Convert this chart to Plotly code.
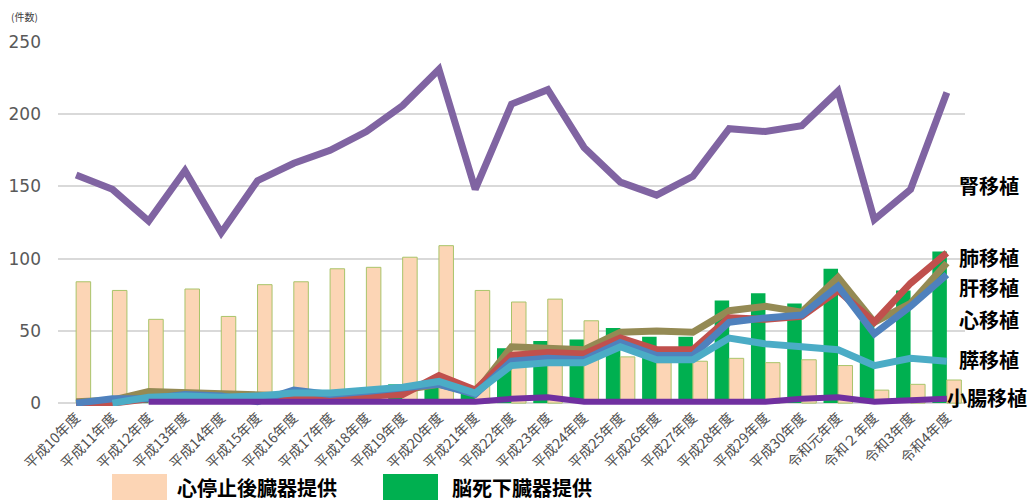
import plotly.graph_objects as go

categories = ["平成10年度", "平成11年度", "平成12年度", "平成13年度", "平成14年度",
              "平成15年度", "平成16年度", "平成17年度", "平成18年度", "平成19年度",
              "平成20年度", "平成21年度", "平成22年度", "平成23年度", "平成24年度",
              "平成25年度", "平成26年度", "平成27年度", "平成28年度", "平成29年度",
              "平成30年度", "令和元年度", "令和２年度", "令和3年度", "令和4年度"]

cardiac_arrest = [84, 78, 58, 79, 60, 82, 84, 93, 94, 101, 109, 78, 70, 72, 57,
                  32, 28, 29, 31, 28, 30, 26, 9, 13, 16]
brain_death = [0, 4, 5, 8, 6, 3, 5, 9, 10, 13, 13, 7, 38, 43, 44,
               52, 46, 46, 71, 76, 69, 93, 57, 78, 105]

kidney = [158, 148, 126, 161, 118, 154, 166, 175, 188, 206, 231, 148, 207, 217, 177,
          153, 144, 157, 190, 188, 192, 216, 127, 148, 215]
liver = [1, 2, 8, 7, 6, 5, 5, 6, 7, 9, 13, 7, 39, 38, 37,
         49, 50, 49, 64, 67, 63, 87, 56, 69, 97]
lung = [0, 0, 3, 4, 2, 2, 4, 4, 5, 6, 19, 9, 33, 35, 34,
        45, 37, 37, 59, 58, 60, 78, 56, 83, 104]
heart = [0, 3, 3, 6, 5, 1, 9, 6, 8, 10, 13, 6, 29, 31, 30,
         42, 33, 33, 56, 59, 61, 81, 48, 67, 89]
pancreas = [None, 0, 4, 5, 4, 5, 7, 7, 9, 11, 15, 7, 26, 28, 28,
            39, 30, 30, 45, 41, 39, 37, 26, 31, 29]
small_intestine = [None, None, 1, 1, 1, 1, 1, 1, 1, 1, 1, 1, 3, 4, 1,
                   1, 1, 1, 1, 1, 3, 4, 1, 2, 3]

y_ticks = [0, 50, 100, 150, 200, 250]

# The page body adds an 8px margin, so the figure is drawn 8px smaller
W, H = 1028, 494
L, T, PW, PH = 50, 34, 907, 364
SX0, SY0 = L + 8, T + 8 + PH  # screen position of plot left / bottom


def px(xs):
    return (xs - SX0) / PW


def py(ys):
    return (SY0 - ys) / PH


fig = go.Figure()

fig.add_trace(go.Bar(x=categories, y=brain_death, name="脳死下臓器提供",
                     marker=dict(color="#00B050", line=dict(width=0))))
fig.add_trace(go.Bar(x=categories, y=cardiac_arrest, name="心停止後臓器提供",
                     marker=dict(color="#FCD5B5", line=dict(color="#A9C46A", width=1))))

line_specs = [
    (liver, "肝移植", "#948A54", 7),
    (lung, "肺移植", "#C0504D", 7),
    (heart, "心移植", "#4F81BD", 7),
    (pancreas, "膵移植", "#4BACC6", 7),
    (small_intestine, "小腸移植", "#7030A0", 6),
    (kidney, "腎移植", "#8064A2", 7),
]
for vals, nm, col, w in line_specs:
    fig.add_trace(go.Scatter(x=categories, y=vals, name=nm, mode="lines",
                             line=dict(color=col, width=w), connectgaps=False))

# right-side series labels
label_font = dict(family="Noto Sans CJK JP", size=20, color="#000000")
labels = [("腎移植", 151, 957), ("肺移植", 101, 957), ("肝移植", 80, 957),
          ("心移植", 58, 957), ("膵移植", 30, 957), ("小腸移植", 4, 945)]
for txt, yv, xs in labels:
    fig.add_annotation(x=px(xs), xref="paper", y=yv, yref="y", text="<b>%s</b>" % txt,
                       showarrow=False, xanchor="left", yanchor="middle", font=label_font)

# unit label
fig.add_annotation(x=px(9), xref="paper", y=py(16), yref="paper", text="(件数)",
                   showarrow=False, xanchor="left", yanchor="middle",
                   font=dict(family="Noto Sans CJK JP", size=10, color="#404040"))

# custom legend
fig.add_shape(type="rect", xref="paper", yref="paper",
              x0=px(112), x1=px(167), y0=py(500), y1=py(474),
              fillcolor="#FCD5B5", line=dict(width=0))
fig.add_annotation(x=px(175), xref="paper", y=py(487), yref="paper",
                   text="<b>心停止後臓器提供</b>", showarrow=False, xanchor="left", yanchor="middle",
                   font=dict(family="Noto Sans CJK JP", size=20, color="#000000"))
fig.add_shape(type="rect", xref="paper", yref="paper",
              x0=px(383), x1=px(438), y0=py(500), y1=py(474),
              fillcolor="#00B050", line=dict(width=0))
fig.add_annotation(x=px(450), xref="paper", y=py(487), yref="paper",
                   text="<b>脳死下臓器提供</b>", showarrow=False, xanchor="left", yanchor="middle",
                   font=dict(family="Noto Sans CJK JP", size=20, color="#000000"))

fig.update_layout(
    width=W, height=H,
    margin=dict(l=L, r=W - L - PW, t=T, b=H - T - PH, pad=0),
    paper_bgcolor="white", plot_bgcolor="white",
    barmode="group", bargap=0.2, bargroupgap=0,
    showlegend=False,
    xaxis=dict(type="category", tickangle=-45, showgrid=False, showline=False,
               ticks="", automargin=False,
               tickfont=dict(family="Noto Sans CJK JP", size=14, color="#505050")),
    yaxis=dict(range=[-2, 250], tickvals=y_ticks, showgrid=True, gridcolor="#D9D9D9",
               gridwidth=1.5, zeroline=False, showline=False, ticks="",
               ticklabelstandoff=16, automargin=False,
               tickfont=dict(family="DejaVu Sans", size=17, color="#595959")),
)

fig.write_html("out.html")
